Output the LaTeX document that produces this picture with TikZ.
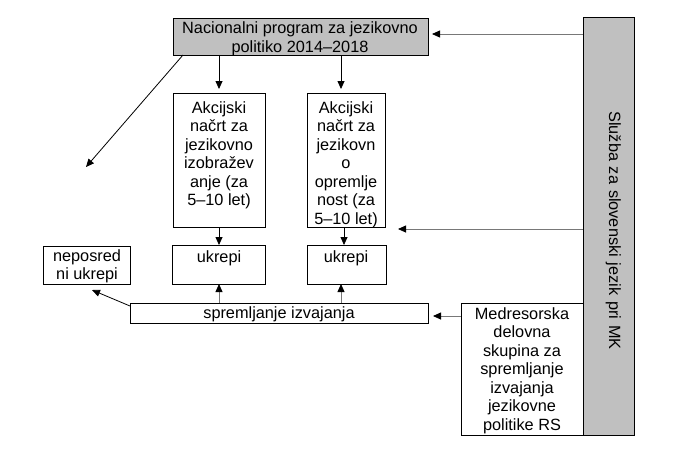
\documentclass[tikz,border=0pt]{standalone}
\usepackage{fontspec}
\setmainfont{Liberation Sans}
\usetikzlibrary{arrows.meta}
\definecolor{boxgray}{RGB}{192,192,192}
\definecolor{linegray}{RGB}{120,120,120}
\begin{document}
\begin{tikzpicture}[x=1pt,y=-1pt,
  box/.style={draw=black,line width=1pt,inner sep=0pt,outer sep=0pt,anchor=north west},
  graybox/.style={box,fill=boxgray},
  txt/.style={inner sep=0pt,align=center,anchor=north,
    font=\fontsize{16.3}{18.5}\selectfont},
  arr/.style={line width=0.8pt,-{Triangle[length=8pt,width=7pt]}},
  garr/.style={arr,draw=linegray,-{Triangle[length=8pt,width=7pt,color=black]}}]
\useasboundingbox (0,0) rectangle (676,467);
% boxes
\node[graybox,minimum width=255,minimum height=37] (top) at (173,18) {};
\node[graybox,minimum width=51,minimum height=418] (bar) at (583,17) {};
\node[box,minimum width=92,minimum height=134] (ak1) at (173,93) {};
\node[box,minimum width=78,minimum height=134] (ak2) at (307,93) {};
\node[box,minimum width=93,minimum height=39] (uk1) at (172,245) {};
\node[box,minimum width=79,minimum height=39] (uk2) at (307,245) {};
\node[box,minimum width=87,minimum height=38] (nep) at (43,246) {};
\node[box,minimum width=298,minimum height=20] (spr) at (130,303) {};
\node[box,minimum width=122,minimum height=132] (med) at (461,303) {};
% texts
\node[txt] (toptxt) at (300,21.5) {Nacionalni program za jezikovno\\politiko 2014–2018};
\node[txt] (ak1txt) at (219,101) {Akcijski\\načrt za\\jezikovno\\izobražev\\anje (za\\5–10 let)};
\node[txt] (ak2txt) at (346,101) {Akcijski\\načrt za\\jezikovn\\o\\opremlje\\nost (za\\5–10 let)};
\node[txt] (uk1txt) at (219,250) {ukrepi};
\node[txt] (uk2txt) at (346,250) {ukrepi};
\node[txt] (neptxt) at (87,249) {neposred\\ni ukrepi};
\node[txt] (sprtxt) at (279,306.5) {spremljanje izvajanja};
\node[txt] (medtxt) at (522,307) {Medresorska\\delovna\\skupina za\\spremljanje\\izvajanja\\jezikovne\\politike RS};
\node[inner sep=0pt,rotate=-90,anchor=base,font=\fontsize{16.3}{18.5}\selectfont] (bartxt) at (609,230.5)
  {Služba\hspace{5.8pt}za\hspace{5.8pt}slovenski\hspace{5.8pt}jezik\hspace{5.8pt}pri\hspace{5.8pt}MK};
% free ends
\coordinate (diagend) at (86,167);
\coordinate (nepend) at (92,290);
\coordinate (ak2end) at (398,229);
% connectors
\draw[garr] ([yshift=2.5pt]top.east -| bar.west) -- ([yshift=2.5pt,xshift=4pt]top.east);
\draw[garr] (ak2end -| bar.west) -- (ak2end);
\draw[garr] ([yshift=-3pt]spr.east -| med.west) -- ([yshift=-3pt,xshift=5pt]spr.east);
\draw[arr,shorten >=4pt] (219,55) -- (219,93);
\draw[arr,shorten >=4pt] (341,55) -- (341,93);
\draw[arr] (219,227) -- (219,245);
\draw[arr] (344,227) -- (344,245);
\draw[garr] (219,303) -- (219,284);
\draw[garr] (341,303) -- (341,284);
\draw[arr] (183,55) -- (diagend);
\draw[arr] (130,306) -- (nepend);
\end{tikzpicture}
\end{document}
